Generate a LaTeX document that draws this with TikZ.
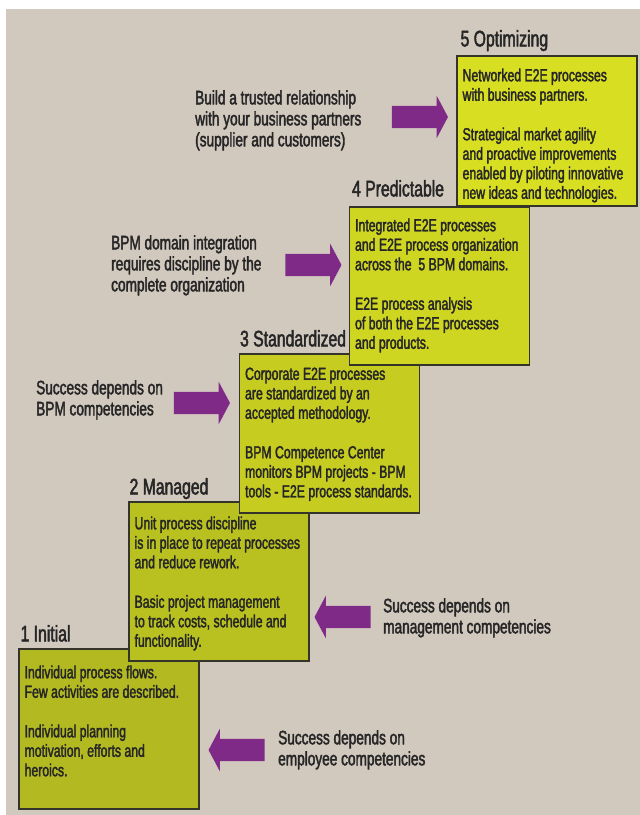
\documentclass[tikz,border=0pt]{standalone}
\usepackage{fontspec}
\setmainfont[FakeStretch=0.7, FakeBold=2]{Liberation Sans}
\usetikzlibrary{positioning, shapes.arrows}
\definecolor{bgbeige}{HTML}{D1C8BE}
\definecolor{levelone}{HTML}{B3BA21}
\definecolor{leveltwo}{HTML}{B9C120}
\definecolor{levelthree}{HTML}{C6CC20}
\definecolor{levelfour}{HTML}{CFD622}
\definecolor{levelfive}{HTML}{D8DF22}
\definecolor{bpmpurple}{HTML}{7F2A86}
\definecolor{inkdark}{HTML}{262626}
\definecolor{boxline}{HTML}{34342A}

\begin{document}
\begin{tikzpicture}[x=1pt, y=1pt,
    every node/.style={text=inkdark},
    levelbox/.style={rectangle, draw=boxline, line width=1.2pt, minimum width=180pt, inner sep=0pt},
    boxtext/.style={align=left, inner sep=0pt, font=\fontsize{17.5}{19.5}\selectfont},
    sidetext/.style={align=left, inner sep=0pt, anchor=north west, font=\fontsize{19.5}{21}\selectfont},
    leveltitle/.style={inner sep=0pt, anchor=base west, font=\fontsize{22.5}{24}\selectfont},
    bigarrow/.style={single arrow, fill=bpmpurple, draw=none, inner sep=11pt, minimum height=56pt,
        single arrow head extend=10pt, single arrow tip angle=124}]
    \useasboundingbox (0,0) rectangle (640,815);
    \fill[bgbeige] (6,0) rectangle (640,806);

    % Level boxes (drawn bottom-up so each one overlaps the one below)
    \node[levelbox, fill=levelone, minimum height=160pt] (initial) at (109,86) {};
    \node[levelbox, fill=leveltwo, minimum height=159pt] (managed) at (219,233.5) {};
    \node[levelbox, fill=levelthree, minimum height=159pt] (standardized) at (329.5,381.5) {};
    \node[levelbox, fill=levelfour, minimum height=158pt] (predictable) at (439.5,529) {};
    \node[levelbox, fill=levelfive, minimum height=150pt] (optimizing) at (547,684) {};

    % Titles
    \node[leveltitle] (initialtitle) at ([shift={(2,7)}]initial.north west) {1 Initial};
    \node[leveltitle] (managedtitle) at ([shift={(1,7)}]managed.north west) {2 Managed};
    \node[leveltitle] (standardizedtitle) at ([shift={(1,7)}]standardized.north west) {3 Standardized};
    \node[leveltitle] (predictabletitle) at ([shift={(3,10)}]predictable.north west) {4 Predictable};
    \node[leveltitle] (optimizingtitle) at ([shift={(4,9)}]optimizing.north west) {5 Optimizing};

    % Box contents
    \node[boxtext, below right=17pt and 6pt of initial.north west] (initialtext)
        {Individual process flows.\\ Few activities are described.\\[20pt]
         Individual planning\\ motivation, efforts and\\ heroics.};
    \node[boxtext, below right=15pt and 6pt of managed.north west] (managedtext)
        {Unit process discipline\\ is in place to repeat processes\\ and reduce rework.\\[20pt]
         Basic project management\\ to track costs, schedule and\\ functionality.};
    \node[boxtext, below right=14pt and 6pt of standardized.north west] (standardizedtext)
        {Corporate E2E processes\\ are standardized by an\\ accepted methodology.\\[20pt]
         BPM Competence Center\\ monitors BPM projects - BPM\\ tools - E2E process standards.};
    \node[boxtext, below right=12pt and 6pt of predictable.north west] (predictabletext)
        {Integrated E2E processes\\ and E2E process organization\\ across the\ \ 5 BPM domains.\\[20pt]
         E2E process analysis\\ of both the E2E processes\\ and products.};
    \node[boxtext, below right=13pt and 6pt of optimizing.north west] (optimizingtext)
        {Networked E2E processes\\ with business partners.\\[20pt]
         Strategical market agility\\ and proactive improvements\\ enabled by piloting innovative\\ new ideas and technologies.};

    % Arrows
    \node[bigarrow] (toinitial) at (239.5,65) [shape border rotate=180] {};
    \node[bigarrow] (tomanaged) at (345.5,198) [shape border rotate=180] {};
    \node[bigarrow] (tostandardized) at (199,412) {};
    \node[bigarrow] (topredictable) at (310.5,550) {};
    \node[bigarrow] (tooptimizing) at (417,698) {};

    % Side notes
    \node[sidetext] (initialnote) at (278,85) {Success depends on\\ employee competencies};
    \node[sidetext] (managednote) at (383,217) {Success depends on\\ management competencies};
    \node[sidetext] (standardizednote) at (36,435) {Success depends on\\ BPM competencies};
    \node[sidetext] (predictablenote) at (111,580) {BPM domain integration\\ requires discipline by the\\ complete organization};
    \node[sidetext] (optimizingnote) at (195,725) {Build a trusted relationship\\ with your business partners\\ (supplier and customers)};
\end{tikzpicture}
\end{document}
